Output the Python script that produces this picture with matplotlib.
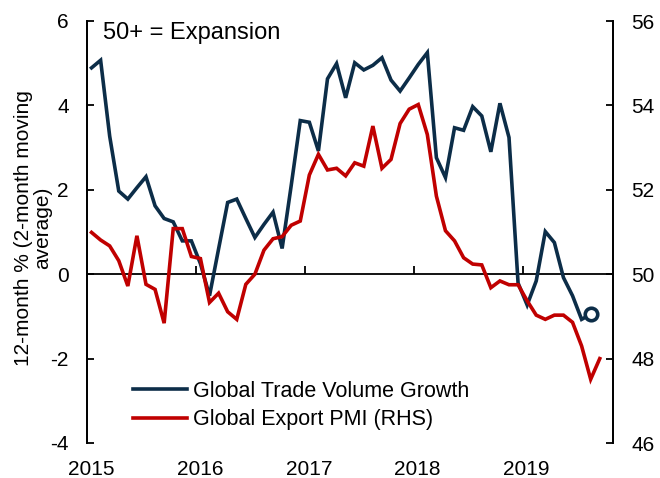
import pandas as pd
import matplotlib
matplotlib.use('Agg')
import matplotlib.pyplot as plt
import matplotlib.transforms as mtransforms

plt.rcParams['font.family'] = ['Liberation Sans', 'DejaVu Sans']
plt.rcParams['font.size'] = 15
plt.rcParams['axes.unicode_minus'] = False

# monthly data, starting Jan 2015
trade_growth = [4.89, 5.07, 3.27, 1.97, 1.78, 2.05, 2.31, 1.62, 1.32, 1.24, 0.79, 0.79,
                0.25, -0.51, 0.6, 1.70, 1.78, 1.32, 0.87, 1.18, 1.47, 0.61, 2.1, 3.64,
                3.60, 2.92, 4.63, 4.99, 4.18, 5.01, 4.84, 4.95, 5.13, 4.60, 4.34, 4.65,
                4.97, 5.25, 2.76, 2.29, 3.47, 3.41, 3.97, 3.75, 2.90, 4.05, 3.24, -0.21,
                -0.73, -0.16, 1.01, 0.75, -0.08, -0.51, -1.07, -0.95]
export_pmi = [50.99, 50.81, 50.67, 50.32, 49.72, 50.91, 49.76, 49.64, 48.84, 51.08, 51.08, 50.42,
              50.37, 49.33, 49.55, 49.11, 48.93, 49.76, 50.0, 50.57, 50.84, 50.89, 51.16, 51.26,
              52.35, 52.84, 52.47, 52.51, 52.33, 52.64, 52.56, 53.51, 52.51, 52.72, 53.57, 53.91,
              54.02, 53.31, 51.85, 51.03, 50.79, 50.39, 50.24, 50.22, 49.68, 49.84, 49.75, 49.75,
              49.37, 49.03, 48.93, 49.03, 49.03, 48.86, 48.30, 47.51, 48.0]
years = [2015, 2016, 2017, 2018, 2019]
left_ticks = [-4, -2, 0, 2, 4, 6]
right_ticks = [46, 48, 50, 52, 54, 56]

navy = '#0c2d48'
red = '#c00000'


def month_pos(n):
    # place each month in the middle of its slot on a year axis
    d = pd.date_range('2015-01-01', periods=n, freq='MS')
    return d.year + (d.month - 0.5) / 12


fig = plt.figure(figsize=(6.6, 4.78), dpi=100)
ax = fig.add_axes([87/660, 1-443/478, (613-87)/660, (443-21)/478])
ax2 = ax.twinx()

x_trade = month_pos(len(trade_growth))
x_pmi = month_pos(len(export_pmi))

l1, = ax.plot(x_trade, trade_growth, color=navy, lw=2.6, solid_joinstyle='miter')
ax.plot(x_trade[-1:], trade_growth[-1:], 'o', ms=9, mfc='white', mec=navy, mew=2.6)
l2, = ax2.plot(x_pmi, export_pmi, color=red, lw=2.6, solid_joinstyle='miter')

ax.set_xlim(2015, 2019.83)
ax.set_ylim(-4, 6)
ax2.set_ylim(46, 56)
ax.set_yticks(left_ticks)
ax2.set_yticks(right_ticks)

ax.axhline(0, color='black', lw=1.3, zorder=1)
ax.vlines(years[1:], 0, 0.19, color='black', lw=1.3)

ax.set_xticks(years)
ax.tick_params(axis='x', length=0, pad=12)
ax.tick_params(axis='y', direction='in', length=5, width=1.3, pad=13)
ax2.tick_params(axis='y', direction='in', length=5, width=1.3, pad=13)
# year labels sit a little right of the tick marks
shift = mtransforms.ScaledTranslation(4/100, 0, fig.dpi_scale_trans)
for lab in ax.get_xticklabels():
    lab.set_transform(lab.get_transform() + shift)

for a in (ax, ax2):
    a.spines['top'].set_visible(False)
    a.spines['bottom'].set_visible(False)
    a.spines['left'].set_linewidth(1.3)
    a.spines['right'].set_linewidth(1.3)

ax.set_ylabel('12-month % (2-month moving\naverage)', linespacing=1.0)
ax.yaxis.set_label_coords(-0.066, 0.51)

ax.text(0.03, 0.972, '50+ = Expansion', transform=ax.transAxes, va='center', ha='left', fontsize=17)

ax.legend([l1, l2], ['Global Trade Volume Growth', 'Global Export PMI (RHS)'],
          loc='lower left', bbox_to_anchor=(0.087, 0.03), frameon=False, fontsize=15.5,
          handlelength=2.5, handletextpad=0.3, labelspacing=0.35, borderpad=0,
          borderaxespad=0)

fig.savefig('out.png', dpi=100)
